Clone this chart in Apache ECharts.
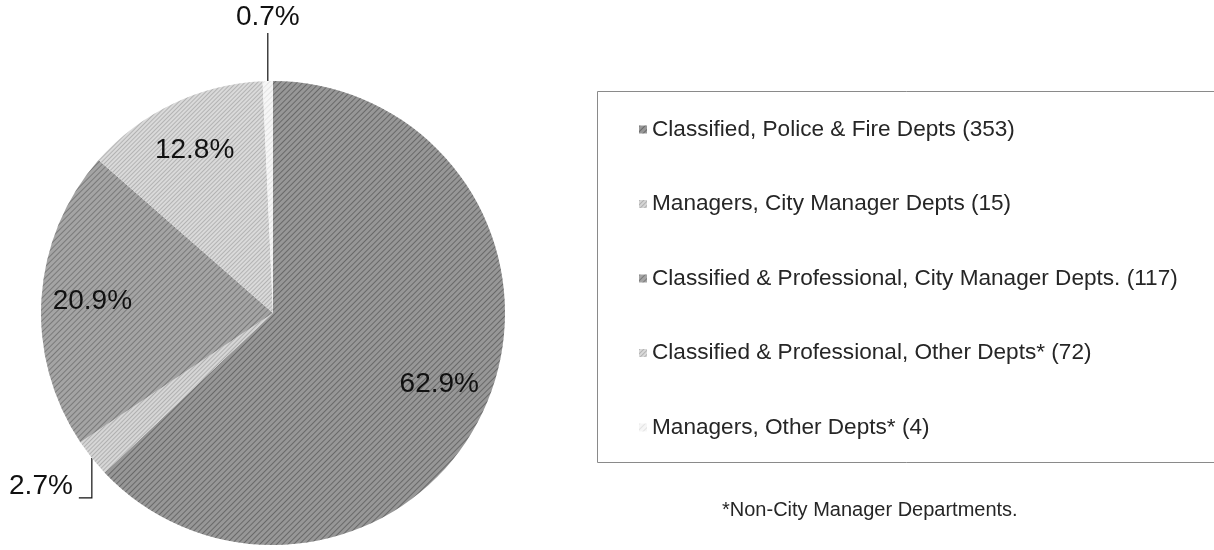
<!DOCTYPE html>
<html>
<head>
<meta charset="utf-8">
<script src="https://cdn.jsdelivr.net/npm/echarts@6/dist/echarts.min.js"></script>
<style>
html,body{margin:0;padding:0;background:#fff;}
#chart{width:1214px;height:550px;}
</style>
</head>
<body>
<div id="chart"></div>
<script>
// ---- data ----
const categories = [
  'Classified, Police & Fire Depts',
  'Managers, City Manager Depts',
  'Classified & Professional, City Manager Depts.',
  'Classified & Professional, Other Depts*',
  'Managers, Other Depts*'
];
const counts = [353, 15, 117, 72, 4];
const footnote = '*Non-City Manager Departments.';

// ---- styles ----
const colors = ['#979797', '#d6d6d6', '#a4a4a4', '#dadada', '#f6f6f6'];
const decalColors = ['rgba(30,30,30,0.38)', 'rgba(90,90,90,0.3)', 'rgba(30,30,30,0.32)', 'rgba(90,90,90,0.3)', 'rgba(150,150,150,0.2)'];
const insideLabel = [true, false, true, true, false];

const total = counts.reduce((a, b) => a + b, 0);
const pct = v => (v / total * 100).toFixed(1) + '%';

const mainData = categories.map((name, i) => ({
  name: name,
  value: counts[i],
  itemStyle: {
    color: colors[i],
    decal: {
      symbol: 'rect',
      symbolSize: 1,
      color: decalColors[i],
      dashArrayX: [1, 0],
      dashArrayY: i % 2 === 0 ? [1, 3] : [1, 2],
      rotation: -Math.PI / 4
    }
  },
  label: { show: !insideLabel[i] },
  labelLine: { show: !insideLabel[i] }
}));

const overlayData = categories.map((name, i) => ({
  name: name,
  value: counts[i],
  itemStyle: { color: 'rgba(0,0,0,0)', decal: { symbol: 'none', color: 'rgba(0,0,0,0)' } },
  label: { show: insideLabel[i] }
}));

const chart = echarts.init(document.getElementById('chart'));
chart.setOption({
  animation: false,
  backgroundColor: '#ffffff',
  aria: { enabled: true, decal: { show: true } },
  legend: {
    orient: 'vertical',
    left: 634,
    top: 113,
    itemWidth: 8,
    itemHeight: 8,
    itemGap: 51.5,
    icon: 'rect',
    data: categories,
    formatter: name => name + ' (' + counts[categories.indexOf(name)] + ')',
    textStyle: {
      fontFamily: 'Liberation Sans, Arial, sans-serif',
      fontSize: 22.6,
      lineHeight: 22,
      color: '#262626'
    },
    selectedMode: false
  },
  graphic: [
    {
      type: 'rect',
      shape: { x: 597.5, y: 91.5, width: 640, height: 371 },
      style: { fill: 'none', stroke: '#8a8a8a', lineWidth: 1 },
      z: 1
    },
    {
      type: 'text',
      left: 722,
      top: 500,
      style: {
        text: footnote,
        fontFamily: 'Liberation Sans, Arial, sans-serif',
        fontSize: 20,
        fill: '#262626'
      }
    }
  ],
  series: [
    {
      type: 'pie',
      center: [273, 313],
      radius: [0, 232],
      startAngle: 90,
      clockwise: true,
      silent: true,
      data: mainData,
      label: {
        position: 'outside',
        overflow: 'none',
        formatter: p => pct(p.value),
        fontFamily: 'Liberation Sans, Arial, sans-serif',
        fontSize: 28,
        color: '#111'
      },
      labelLine: {
        length: 40,
        length2: 10,
        lineStyle: { color: '#111', width: 1.2 }
      },
      labelLayout: function (params) {
        const pts = params.labelLinePoints;
        if (!pts) return {};
        const p0 = pts[0];
        if (params.dataIndex === 4) {
          return {
            x: p0[0],
            y: p0[1] - 50,
            align: 'center',
            verticalAlign: 'bottom',
            width: 90,
            labelLinePoints: [[p0[0], p0[1]], [p0[0], p0[1] - 48], [p0[0], p0[1] - 48]]
          };
        }
        if (params.dataIndex === 1) {
          return {
            x: p0[0] - 19,
            y: p0[1] + 42,
            align: 'right',
            verticalAlign: 'bottom',
            width: 90,
            labelLinePoints: [[p0[0], p0[1]], [p0[0], p0[1] + 40], [p0[0] - 13, p0[1] + 40]]
          };
        }
        return {};
      }
    },
    {
      type: 'pie',
      center: [273, 313],
      radius: [124, 232],
      startAngle: 90,
      clockwise: true,
      silent: true,
      data: overlayData,
      label: {
        position: 'inside',
        formatter: p => pct(p.value),
        fontFamily: 'Liberation Sans, Arial, sans-serif',
        fontSize: 28,
        color: '#111'
      },
      labelLine: { show: false }
    }
  ]
});
</script>
</body>
</html>
